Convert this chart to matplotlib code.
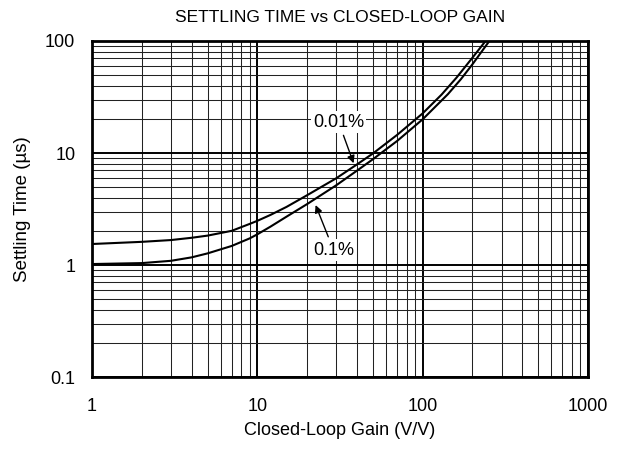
import matplotlib.pyplot as plt
import matplotlib.ticker as mticker
import numpy as np

plt.rcParams['font.family'] = ['Liberation Sans', 'DejaVu Sans']

# settling time curves
gain_001 = [1, 2, 3, 4, 5, 7, 9, 10, 12, 15, 20, 30, 40, 50, 70, 100, 130, 160, 200, 240]
t_001 = [1.54, 1.61, 1.67, 1.75, 1.83, 2.02, 2.33, 2.48, 2.8, 3.3, 4.2, 5.95, 7.9, 9.9,
         14.5, 22.6, 33.2, 47.0, 71.0, 100.0]
gain_01 = [1, 2, 3, 4, 5, 7, 9, 10, 12, 15, 20, 30, 40, 50, 70, 100, 142, 170, 200, 253]
t_01 = [1.02, 1.04, 1.09, 1.17, 1.27, 1.48, 1.73, 1.88, 2.2, 2.7, 3.5, 5.15, 6.95, 8.8,
        12.8, 20.0, 33.5, 45.5, 62.0, 100.0]

xticks = [1, 10, 100, 1000]
yticks = [0.1, 1, 10, 100]

fig = plt.figure(figsize=(6.29, 4.5), dpi=100)
ax = fig.add_axes([0.1463, 0.1622, 0.7886, 0.7467])

ax.plot(gain_001, t_001, 'k', lw=1.5, solid_joinstyle='round')
ax.plot(gain_01, t_01, 'k', lw=1.5, solid_joinstyle='round')

ax.set_xscale('log')
ax.set_yscale('log')
ax.set_xlim(1, 1000)
ax.set_ylim(0.1, 100)

ax.xaxis.set_major_locator(mticker.FixedLocator(xticks))
ax.xaxis.set_major_formatter(mticker.FixedFormatter([str(v) for v in xticks]))
ax.yaxis.set_major_locator(mticker.FixedLocator(yticks))
ax.yaxis.set_major_formatter(mticker.FixedFormatter(['0.1', '1', '10', '100']))
ax.xaxis.set_minor_locator(mticker.LogLocator(subs=np.arange(2, 10)))
ax.yaxis.set_minor_locator(mticker.LogLocator(subs=np.arange(2, 10)))
ax.xaxis.set_minor_formatter(mticker.NullFormatter())
ax.yaxis.set_minor_formatter(mticker.NullFormatter())

ax.grid(which='major', color='k', lw=1.4)
ax.grid(which='minor', color='#222222', lw=0.75)
ax.tick_params(which='both', length=0, labelsize=13)
ax.tick_params(axis='x', pad=15)
ax.tick_params(axis='y', pad=12)
for s in ax.spines.values():
    s.set_linewidth(2)

ax.annotate('0.01%', xy=(38.2, 8.1), xytext=(31, 18.9),
            fontsize=13, ha='center', va='center',
            bbox=dict(fc='white', ec='none', pad=1.5),
            arrowprops=dict(arrowstyle='-|>', color='k', lw=1, mutation_scale=11,
                            shrinkA=2, shrinkB=0))
ax.annotate('0.1%', xy=(22.5, 3.43), xytext=(28.9, 1.36),
            fontsize=13, ha='center', va='center',
            bbox=dict(fc='white', ec='none', pad=1.5),
            arrowprops=dict(arrowstyle='-|>', color='k', lw=1, mutation_scale=11,
                            shrinkA=2, shrinkB=0))

ax.set_title('SETTLING TIME vs CLOSED-LOOP GAIN', fontsize=12.5, pad=14)
ax.set_xlabel('Closed-Loop Gain (V/V)', fontsize=13, labelpad=5)
ax.set_ylabel('Settling Time (µs)', fontsize=13.5, labelpad=10)

plt.savefig('out.png', dpi=100)
